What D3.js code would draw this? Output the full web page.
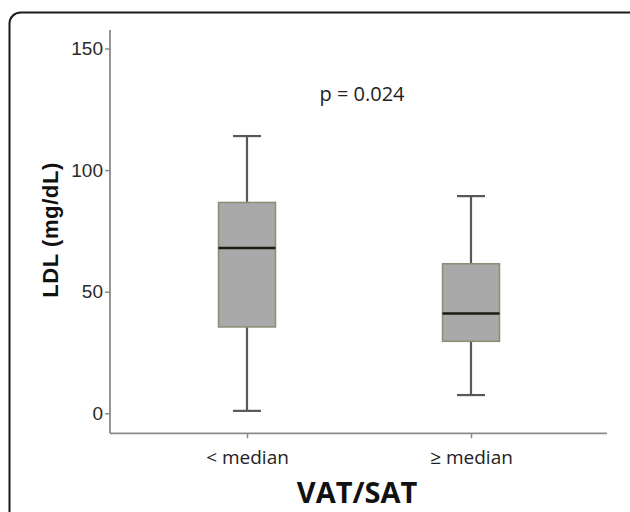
<!DOCTYPE html>
<html>
<head>
<meta charset="utf-8">
<script src="https://cdn.jsdelivr.net/npm/d3@7"></script>
<style>
  body { margin: 0; background: #fff; }
  svg { display: block; }
</style>
</head>
<body>
<svg width="630" height="512"></svg>
<script>
// data (LDL, mg/dL)
const groups = ["< median", "\u2265 median"];
const whiskerLow = [1, 7.5];
const q1 = [35.5, 29.6];
const medians = [68, 41];
const q3 = [86.7, 61.5];
const whiskerHigh = [114, 89.3];
const yTicks = [0, 50, 100, 150];

const svg = d3.select("svg");

// rounded frame around the figure
svg.append("rect")
  .attr("x", 9.5).attr("y", 12.5)
  .attr("width", 640).attr("height", 540)
  .attr("rx", 11)
  .attr("fill", "none")
  .attr("stroke", "#1a1a1a")
  .attr("stroke-width", 2);

const y = d3.scaleLinear().domain([0, 150]).range([413.3, 48.5]);
const x = d3.scalePoint().domain(groups).range([247, 471]);

const axisColor = "#8a8a8a";

// y axis
const yAxis = svg.append("g")
  .attr("transform", "translate(110,0)")
  .call(d3.axisLeft(y).tickValues(yTicks).tickSize(5).tickPadding(2).tickSizeOuter(0));
yAxis.select(".domain").remove();
yAxis.append("line")
  .attr("x1", 0).attr("x2", 0).attr("y1", 30).attr("y2", 433.3)
  .attr("stroke", axisColor).attr("stroke-width", 1.8);
yAxis.selectAll(".tick line").attr("stroke", axisColor).attr("stroke-width", 1.5);
yAxis.selectAll(".tick text")
  .attr("fill", "#2a2a2a")
  .style("font-family", "'Liberation Sans', Arial, sans-serif")
  .style("font-size", "19px");

// x axis
const xAxis = svg.append("g")
  .attr("transform", "translate(0,433.3)")
  .call(d3.axisBottom(x).tickSize(5).tickPadding(12).tickSizeOuter(0));
xAxis.select(".domain").remove();
xAxis.append("line")
  .attr("x1", 110).attr("x2", 607).attr("y1", 0).attr("y2", 0)
  .attr("stroke", axisColor).attr("stroke-width", 1.8);
xAxis.selectAll(".tick line").attr("stroke", axisColor).attr("stroke-width", 1.5);
xAxis.selectAll(".tick text")
  .attr("fill", "#222")
  .style("font-family", "'Open Sans', sans-serif")
  .style("font-size", "19px");

// boxes
const boxW = 57, capW = 28;
const boxes = svg.append("g").selectAll("g")
  .data(groups.map((g, i) => ({ g, lo: whiskerLow[i], q1: q1[i], med: medians[i], q3: q3[i], hi: whiskerHigh[i] })))
  .join("g");

boxes.append("line")
  .attr("x1", d => x(d.g)).attr("x2", d => x(d.g))
  .attr("y1", d => y(d.hi)).attr("y2", d => y(d.lo))
  .attr("stroke", "#585858").attr("stroke-width", 2.2);
boxes.selectAll(".cap")
  .data(d => [{ g: d.g, v: d.hi }, { g: d.g, v: d.lo }])
  .join("line")
  .attr("class", "cap")
  .attr("x1", d => x(d.g) - capW / 2).attr("x2", d => x(d.g) + capW / 2)
  .attr("y1", d => y(d.v)).attr("y2", d => y(d.v))
  .attr("stroke", "#585858").attr("stroke-width", 2.2);
boxes.append("rect")
  .attr("x", d => x(d.g) - boxW / 2)
  .attr("y", d => y(d.q3))
  .attr("width", boxW)
  .attr("height", d => y(d.q1) - y(d.q3))
  .attr("fill", "#a9a9a9")
  .attr("stroke", "#8e8c72")
  .attr("stroke-width", 1.5);
boxes.append("line")
  .attr("x1", d => x(d.g) - boxW / 2).attr("x2", d => x(d.g) + boxW / 2)
  .attr("y1", d => y(d.med)).attr("y2", d => y(d.med))
  .attr("stroke", "#1c1c12").attr("stroke-width", 2.5);

// p value
svg.append("text")
  .attr("x", 362).attr("y", 101)
  .attr("text-anchor", "middle")
  .attr("fill", "#222")
  .style("font-family", "'Open Sans', sans-serif")
  .style("font-size", "20px")
  .text("p = 0.024");

// axis titles
svg.append("text")
  .attr("transform", "translate(58,230) rotate(-90)")
  .attr("text-anchor", "middle")
  .attr("fill", "#111")
  .style("font-family", "'Liberation Sans', Arial, sans-serif")
  .style("font-weight", "bold")
  .style("font-size", "22px")
  .style("letter-spacing", "0.6px")
  .text("LDL (mg/dL)");

svg.append("text")
  .attr("x", 357).attr("y", 503)
  .attr("text-anchor", "middle")
  .attr("fill", "#111")
  .style("font-family", "'Open Sans', sans-serif")
  .style("font-weight", "bold")
  .style("font-size", "29px")
  .text("VAT/SAT");
</script>
</body>
</html>
